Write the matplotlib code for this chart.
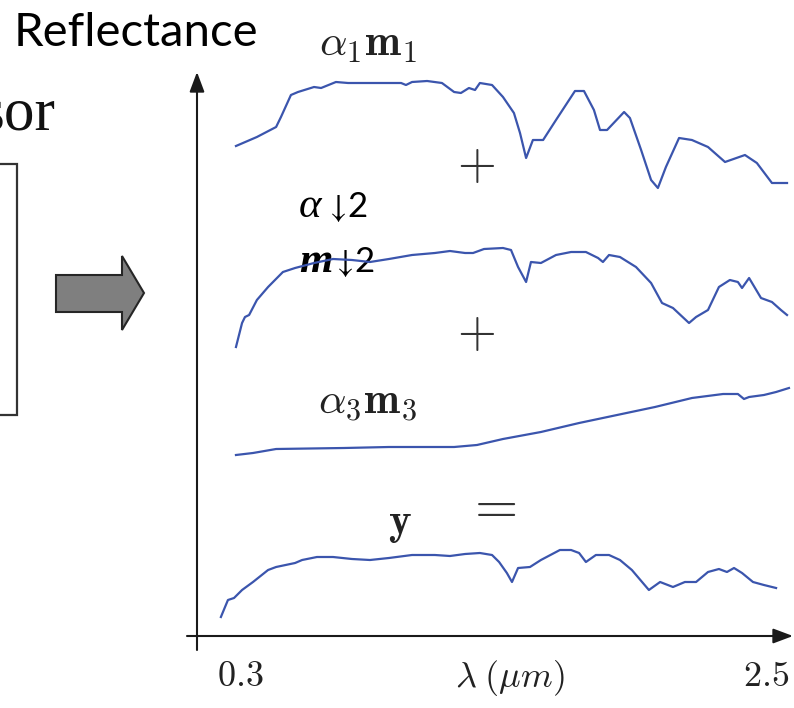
import matplotlib.pyplot as plt
from matplotlib.patches import Rectangle, Polygon

plt.rcParams['mathtext.fontset'] = 'cm'

# spectra: wavelength (um) and stacked reflectance (a.u., offset per endmember)
wl_1 = [0.304, 0.390, 0.469, 0.489, 0.530, 0.559, 0.625, 0.654, 0.715, 0.765,
        0.983, 1.003, 1.028, 1.090, 1.151, 1.201, 1.229, 1.262, 1.287, 1.307,
        1.357, 1.402, 1.447, 1.472, 1.497, 1.525, 1.567, 1.620, 1.698, 1.735,
        1.776, 1.801, 1.830, 1.900, 1.924, 1.970, 2.011, 2.039, 2.072, 2.126,
        2.179, 2.245, 2.315, 2.397, 2.446, 2.508, 2.570]
refl_1 = [562, 571, 581, 591, 613, 616, 621, 620, 626, 625,
          625, 623, 626, 627, 625, 616, 615, 620, 618, 625,
          623, 611, 595, 575, 550, 568, 568, 588, 617, 617,
          598, 578, 578, 596, 590, 558, 528, 520, 541, 570,
          568, 561, 546, 553, 545, 525, 525]

wl_2 = [0.304, 0.329, 0.341, 0.358, 0.390, 0.436, 0.497, 0.547, 0.625, 0.703,
        0.781, 0.855, 0.933, 1.028, 1.122, 1.184, 1.246, 1.279, 1.324, 1.402,
        1.435, 1.464, 1.497, 1.517, 1.558, 1.620, 1.682, 1.743, 1.793, 1.813,
        1.838, 1.883, 1.949, 2.011, 2.056, 2.101, 2.167, 2.196, 2.245, 2.290,
        2.335, 2.368, 2.385, 2.414, 2.463, 2.508, 2.545, 2.570]
refl_2 = [361, 385, 391, 393, 408, 421, 436, 440, 445, 449,
          448, 446, 449, 453, 455, 457, 455, 455, 459, 460,
          458, 441, 426, 446, 445, 453, 456, 456, 450, 446,
          453, 451, 441, 425, 405, 400, 385, 391, 398, 421,
          428, 426, 420, 430, 410, 406, 398, 393]

wl_3 = [0.304, 0.374, 0.469, 0.748, 0.933, 1.184, 1.201, 1.295, 1.402, 1.558,
        1.715, 1.871, 2.027, 2.179, 2.307, 2.368, 2.393, 2.414, 2.475, 2.525,
        2.578]
refl_3 = [253, 255, 259, 260, 261, 261, 261, 263, 269, 276,
          285, 293, 301, 310, 314, 314, 309, 311, 313, 316,
          320]

wl_y = [0.242, 0.259, 0.271, 0.296, 0.329, 0.374, 0.436, 0.469, 0.547, 0.576,
        0.637, 0.703, 0.781, 0.855, 0.933, 1.028, 1.122, 1.184, 1.246, 1.307,
        1.357, 1.386, 1.418, 1.439, 1.464, 1.513, 1.558, 1.636, 1.682, 1.715,
        1.743, 1.784, 1.838, 1.883, 1.932, 2.002, 2.048, 2.101, 2.150, 2.196,
        2.245, 2.290, 2.323, 2.352, 2.385, 2.430, 2.475, 2.525]
refl_y = [91, 101, 108, 110, 118, 126, 138, 141, 145, 148,
          151, 151, 149, 148, 150, 153, 153, 152, 154, 155,
          153, 146, 135, 126, 140, 141, 148, 158, 158, 155,
          146, 153, 153, 148, 138, 118, 126, 121, 126, 126,
          136, 139, 136, 140, 135, 126, 123, 120]

tick_wl = [0.3, 2.5]
tick_labels = ['0.3', '2.5']

line_color = '#3b55ad'

fig = plt.figure(figsize=(7.94, 7.08), dpi=100)

# page layer in pixel units for the diagram decorations
ax = fig.add_axes([0, 0, 1, 1])
ax.set_xlim(0, 794)
ax.set_ylim(708, 0)
ax.axis('off')

# spectra layer: x in wavelength
ax2 = fig.add_axes([0, 0, 1, 1])
ax2.patch.set_alpha(0)
ax2.set_xlim(0.3 - 235 * 2.2 / 535, 2.5 + 24 * 2.2 / 535)
ax2.set_ylim(0, 708)
ax2.axis('off')

for wl, refl in [(wl_1, refl_1), (wl_2, refl_2), (wl_3, refl_3), (wl_y, refl_y)]:
    ax2.plot(wl, refl, color=line_color, lw=1.6, solid_joinstyle='round')

# tick labels: first one sits right of its tick, last one is pulled in from the edge
for w, lab, ha in zip(tick_wl, tick_labels, ['center', 'right']):
    ax2.text(w + (0.02 if ha == 'center' else 0.08), 32, '$' + lab + '$',
             fontsize=26, ha=ha, va='center', color='#222')
ax2.text(1.43, 30, r'$\lambda\;(\mu m)$', fontsize=26, ha='center', va='center', color='#222')

# axis arrows
ax.annotate('', xy=(197, 72), xytext=(197, 650),
            arrowprops=dict(arrowstyle='-|>,head_length=1.2,head_width=0.45',
                            lw=1.5, color='#1a1a1a', shrinkA=0, shrinkB=0))
ax.annotate('', xy=(793, 636), xytext=(187, 636),
            arrowprops=dict(arrowstyle='-|>,head_length=1.2,head_width=0.45',
                            lw=1.5, color='#1a1a1a', shrinkA=0, shrinkB=0))

# sensor box (cut off) and the gray block arrow
ax.add_patch(Rectangle((-10, 164), 27, 251, fill=False, lw=1.6, ec='#333333'))
ax.add_patch(Polygon([(56, 275), (122, 275), (122, 256), (144, 293),
                      (122, 330), (122, 312), (56, 312)],
                     closed=True, fc='#7f7f7f', ec='#262626', lw=1.5))

ax.text(55, 130, 'sor', fontsize=44, family='Liberation Serif', ha='right',
        va='baseline', color='#111')
ax.text(14, 46, 'Reflectance', fontsize=34, family='Lato', ha='left',
        va='baseline', color='#000')

# labels of the mixture
ax.text(368, 44, r'$\alpha_1\mathbf{m}_1$', fontsize=31, ha='center', va='center', color='#222')
ax.text(367, 403, r'$\alpha_3\mathbf{m}_3$', fontsize=31, ha='center', va='center', color='#222')
ax.text(400, 524, r'$\mathbf{y}$', fontsize=31, ha='center', va='center', color='#222')
ax.text(476, 165, r'$+$', fontsize=36, ha='center', va='center', color='#333')
ax.text(476, 333, r'$+$', fontsize=36, ha='center', va='center', color='#333')
ax.text(491, 506, r'$=$', fontsize=40, ha='center', va='center', color='#333')

# broken equation labels for the second endmember
ax.text(299, 217, 'α', fontsize=31, family='Liberation Serif', style='italic',
        ha='left', va='baseline', color='#000')
ax.text(325, 217, r'$\downarrow$', fontsize=24, math_fontfamily='stix',
        ha='left', va='baseline', color='#000')
ax.text(347, 217, '2', fontsize=25, family='Lato', ha='left', va='baseline', color='#000')
ax.text(299, 272, 'm', fontsize=31, family='Liberation Serif', style='italic',
        weight='bold', ha='left', va='baseline', color='#000')
ax.text(332, 272, r'$\downarrow$', fontsize=24, math_fontfamily='stix',
        ha='left', va='baseline', color='#000')
ax.text(354, 272, '2', fontsize=25, family='Lato', ha='left', va='baseline', color='#000')

fig.savefig('out.png', dpi=100, facecolor='white')
